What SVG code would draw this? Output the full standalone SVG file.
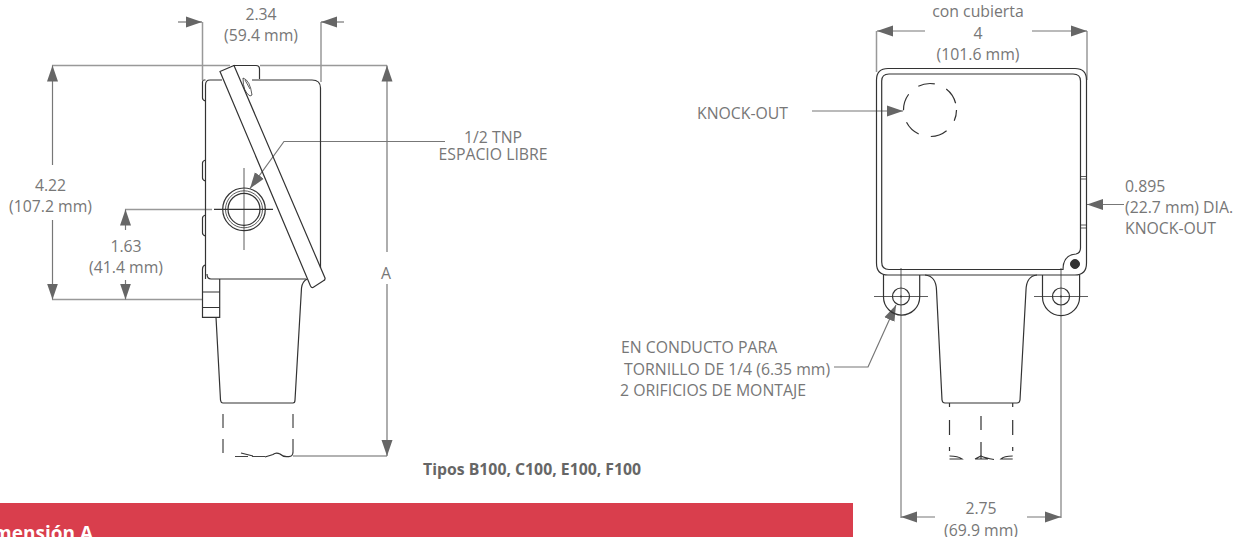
<svg xmlns="http://www.w3.org/2000/svg" width="1239" height="537" viewBox="0 0 1239 537">
<defs>
<marker id="ah" markerUnits="userSpaceOnUse" markerWidth="17" markerHeight="13" refX="16" refY="6.500" orient="auto"><path d="M0 1L16 6.500L0 12Z" fill="#666"/></marker>
</defs>
<style>
text{font-family:"Open Sans","Noto Sans","Liberation Sans",sans-serif;font-size:15.800px;fill:#777}
.c{text-anchor:middle}
.b{font-weight:700;fill:#666}
.d{fill:none;stroke:#999;stroke-width:1.5}
.a{fill:none;stroke:#777;stroke-width:1.2;marker-end:url(#ah)}
.k{fill:none;stroke:#333;stroke-width:1.2}
.t{fill:none;stroke:#333;stroke-width:.8}
.h{fill:none;stroke:#444;stroke-width:1.2}
</style>
<rect width="1239" height="537" fill="#fff"/>
<g id="connectors">
<path class="d" d="M202.500 22V80M321 22V82M52 65.500H230M260 65.500H387M52 299.500H202M125 209.500H212M293 456H387M876.500 31V72M1087 31V80"/>
<path class="d" d="M901 314V518M1061 314V518"/>
<path class="a" d="M178 22H202"/><path class="a" d="M344 22H321"/>
<path class="a" d="M52.500 165V65.500"/><path class="a" d="M52.500 220V299.500"/>
<path class="a" d="M125.500 230V209.500"/><path class="a" d="M125.500 280V299.500"/>
<path class="a" d="M387 252V65.500"/><path class="a" d="M387 284V456"/>
<path class="a" d="M445 141.500H284L250 188.500"/>
<path class="a" d="M925 31H877"/><path class="a" d="M1032 31H1087"/>
<path class="a" d="M812 111H903"/><path class="a" d="M1124 204.500H1087"/>
<path class="a" d="M935 517H901"/><path class="a" d="M1027 517H1061"/>
<path class="a" d="M834 367H868L896 305"/>
</g>
<g id="side-view">
<path class="k" d="M205.500 279V85Q205.500 80 210 80H222M252 80H312Q320.500 80 320.500 88V268"/>
<path class="k" d="M207 274Q207 279 211 279H306"/>
<path class="k" d="M233 65.500H256Q259.500 65.500 259.500 69V79"/>
<path class="k" d="M205.500 80H204Q202.500 80 202.500 82V98Q202.500 100 205.500 101M205.500 160Q202.500 161 202.500 163V178Q202.500 180 205.500 181M205.500 215Q202.500 216 202.500 218V233Q202.500 235 205.500 236"/>
<path class="k" fill="#fff" d="M220 71.500L234 65.500L325 278Q325.500 280 323 281L313 287.500Q311.500 288 310.500 286L220 71.500Z"/>
<path class="t" d="M243 78Q250 80 252 95L250 96Q243 92 243 78ZM245 80L250 89"/>
<circle class="k" cx="244" cy="209.300" r="21.300" stroke-width=".9"/>
<circle class="t" cx="244" cy="209.300" r="18.500"/>
<circle class="k" cx="244" cy="209.300" r="16"/>
<path class="k" d="M214 209.300H273"/><path class="t" d="M244 168V250"/>
<path class="k" d="M205 265Q202.500 266 202.500 269V317.300H219.700V279M202.500 292H219.700M202.500 307.500H219.700"/>
<path class="k" d="M216 317.300L220.500 400Q221 403 223 403H293Q295 403 295 400L301.500 288Q302 282 307 279"/>
<path class="h" stroke-dasharray="14 11" d="M223 414V454"/>
<path class="h" stroke-dasharray="14 11" d="M293 414V452"/>
<path class="k" d="M293 452Q293 457 288 456.500Q283 457 280 454Q276 452 273 454.500L265 457M253 456L241 453"/>
<path class="h" stroke-dasharray="13 4 13 20" d="M235 456.500H273"/>
</g>
<g id="front-view">
<path class="k" stroke-width="1.4" d="M888 68.500H1075Q1086.500 68.500 1086.500 80V263Q1086.500 275 1075 275H888Q876.500 275 876.500 263V80Q876.500 68.500 888 68.500Z"/>
<path class="k" stroke-width="1.4" d="M889 74H1073Q1080.500 74 1080.500 81V248Q1080.500 253 1076 254Q1063 255 1063 269.500H889Q881.700 269.500 881.700 262V81Q881.700 74 889 74Z"/>
<circle cx="1075" cy="264" r="4.500" fill="#333" stroke="#333"/>
<path class="t" d="M1081 176.500H1086.500M1081 179H1086.500M1081 225H1086.500M1081 228H1086.500"/>
<circle class="k" cx="930" cy="110" r="26.500" stroke-dasharray="17 12.500" stroke-dashoffset="6"/>
<path class="k" d="M883.500 275V297A18 18 0 0 0 919.700 297V275M1042.500 275V297A18.500 18.500 0 0 0 1079.600 297V275"/>
<circle class="k" cx="901" cy="296.500" r="8.500"/><circle class="k" cx="1061" cy="296.500" r="8.500"/>
<circle cx="901" cy="296.500" r="1" fill="#333"/><circle cx="1061" cy="296.500" r="1" fill="#333"/>
<path class="t" d="M874 296.500H928M901 268V314M1034 296.500H1088M1061 268V314"/>
<path class="k" d="M925 275Q936 276 936.500 290L942 400Q942.500 403 945 403H1017Q1019.500 403 1020 400L1026 290Q1026.500 276 1037 275"/>
<path class="k" stroke-dasharray="4 13 15 12" d="M949.500 403V459"/>
<path class="k" stroke-dasharray="4 13 15 12" d="M1012.700 403V459"/>
<path class="k" stroke-dasharray="14 12 19 99" d="M981 416V459"/>
<path class="k" d="M949.500 456Q958 456 962 459H949.500M1012.700 456Q1004 456 1001 459H1012.700M975 459Q979 457 981 456Q985 458 994 459.500M975 459H988"/>
</g>
<g id="labels">
<text class="c" x="261" y="20">2.34</text>
<text class="c" x="261" y="41">(59.4 mm)</text>
<text class="c" x="50.500" y="191">4.22</text>
<text class="c" x="50.500" y="212">(107.2 mm)</text>
<text class="c" x="126" y="252">1.63</text>
<text class="c" x="126" y="273">(41.4 mm)</text>
<text class="c" x="386" y="279">A</text>
<text class="c" x="493" y="143">1/2 TNP</text>
<text class="c" x="493" y="160">ESPACIO LIBRE</text>
<text class="b" x="423" y="475">Tipos B100, C100, E100, F100</text>
<text class="c" x="978" y="17">con cubierta</text>
<text class="c" x="978" y="38.500">4</text>
<text class="c" x="978" y="60">(101.6 mm)</text>
<text x="697" y="119">KNOCK-OUT</text>
<text x="1125" y="192">0.895</text>
<text x="1125" y="213">(22.7 mm) DIA.</text>
<text x="1125" y="234">KNOCK-OUT</text>
<text x="621" y="353">EN CONDUCTO PARA</text>
<text x="624" y="375">TORNILLO DE 1/4 (6.35 mm)</text>
<text x="620" y="396">2 ORIFICIOS DE MONTAJE</text>
<text class="c" x="981" y="514">2.75</text>
<text class="c" x="981" y="536">(69.9 mm)</text>
</g>
<g id="table-header">
<rect y="503" width="853" height="34" fill="#d93e4d"/>
<text x="93" y="540" style="font-size:19px;font-weight:700;fill:#fff;text-anchor:end">Dimensión A</text>
</g>
</svg>
